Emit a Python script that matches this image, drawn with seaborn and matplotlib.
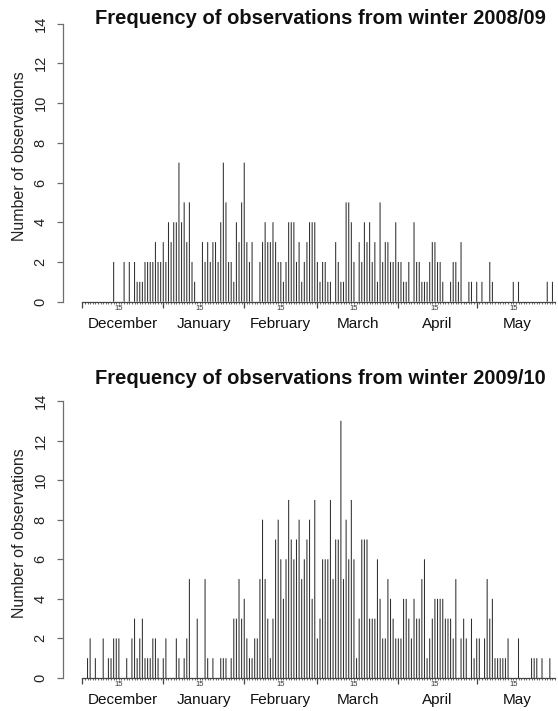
import matplotlib
matplotlib.use("Agg")
import matplotlib.pyplot as plt
import seaborn as sns
import pandas as pd
import numpy as np

# ---------------- data (day index counted from 1 December) ----------------
month_names = ["December", "January", "February", "March", "April", "May"]
month_lengths = [31, 31, 28, 31, 30, 31]
y_ticks = [0, 2, 4, 6, 8, 10, 12, 14]

titles = ["Frequency of observations from winter 2008/09",
          "Frequency of observations from winter 2009/10"]

days_0809 = [12, 16, 18, 20, 21, 22, 23, 24, 25, 26, 27, 28, 29, 30, 31, 32, 33, 34, 35, 36,
             37, 38, 39, 40, 41, 42, 43, 46, 47, 48, 49, 50, 51, 52, 53, 54, 55, 56, 57, 58,
             59, 60, 61, 62, 63, 64, 65, 68, 69, 70, 71, 72, 73, 74, 75, 76, 77, 78, 79, 80,
             81, 82, 83, 84, 85, 86, 87, 88, 89, 90, 91, 92, 93, 94, 95, 97, 98, 99, 100, 101,
             102, 103, 104, 106, 107, 108, 109, 110, 111, 112, 113, 114, 115, 116, 117, 118, 119, 120, 121, 122,
             123, 124, 125, 127, 128, 129, 130, 131, 132, 133, 134, 135, 136, 137, 138, 141, 142, 143, 144, 145,
             148, 149, 151, 153, 156, 157, 165, 167, 178, 180]
counts_0809 = [2, 2, 2, 2, 1, 1, 1, 2, 2, 2, 2, 3, 2, 2, 3, 2, 4, 3, 4, 4,
               7, 4, 5, 3, 5, 2, 1, 3, 2, 3, 2, 3, 3, 2, 4, 7, 5, 2, 2, 1,
               4, 3, 5, 7, 3, 2, 3, 2, 3, 4, 3, 3, 4, 3, 2, 2, 1, 2, 4, 4,
               4, 2, 3, 1, 2, 3, 4, 4, 4, 2, 1, 2, 2, 1, 1, 3, 2, 1, 1, 5,
               5, 4, 2, 3, 2, 4, 3, 4, 2, 3, 1, 5, 2, 3, 3, 2, 2, 4, 2, 2,
               1, 1, 2, 4, 2, 2, 1, 1, 1, 2, 3, 3, 2, 2, 1, 1, 2, 2, 1, 3,
               1, 1, 1, 1, 2, 1, 1, 1, 1, 1]

days_0910 = [2, 3, 5, 8, 10, 11, 12, 13, 14, 17, 19, 20, 21, 22, 23, 24, 25, 26, 27, 28,
             29, 31, 32, 36, 37, 39, 40, 41, 44, 47, 48, 50, 53, 54, 55, 57, 58, 59, 60, 61,
             62, 63, 64, 65, 66, 67, 68, 69, 70, 71, 72, 73, 74, 75, 76, 77, 78, 79, 80, 81,
             82, 83, 84, 85, 86, 87, 88, 89, 90, 91, 92, 93, 94, 95, 96, 97, 98, 99, 100, 101,
             102, 103, 104, 105, 106, 107, 108, 109, 110, 111, 112, 113, 114, 115, 116, 117, 118, 119, 120, 121,
             122, 123, 124, 125, 126, 127, 128, 129, 130, 131, 132, 133, 134, 135, 136, 137, 138, 139, 140, 141,
             142, 143, 145, 146, 147, 149, 150, 151, 152, 154, 155, 156, 157, 158, 159, 160, 161, 162, 163, 167,
             172, 173, 174, 176, 179]
counts_0910 = [1, 2, 1, 2, 1, 1, 2, 2, 2, 1, 2, 3, 1, 2, 3, 1, 1, 1, 2, 2,
               1, 1, 2, 2, 1, 1, 2, 5, 3, 5, 1, 1, 1, 1, 1, 1, 3, 3, 5, 3,
               4, 2, 1, 1, 2, 2, 5, 8, 5, 3, 1, 3, 7, 8, 6, 4, 6, 9, 7, 6,
               7, 8, 5, 6, 7, 8, 4, 9, 2, 3, 6, 6, 6, 9, 5, 7, 7, 13, 5, 8,
               6, 9, 6, 1, 3, 7, 7, 7, 3, 3, 3, 6, 4, 2, 2, 5, 4, 3, 2, 2,
               2, 4, 4, 3, 2, 4, 3, 3, 5, 6, 1, 2, 3, 4, 4, 4, 4, 3, 3, 3,
               2, 5, 2, 3, 2, 3, 1, 2, 2, 2, 5, 3, 4, 1, 1, 1, 1, 1, 2, 2,
               1, 1, 1, 1, 1]

# ---------------- style ----------------
sns.set_theme(style="white")
plt.rcParams["font.family"] = ["Liberation Sans", "DejaVu Sans"]

W, H, DPI = 558, 711, 100
fig = plt.figure(figsize=(W / DPI, H / DPI), dpi=DPI)

AX_COL = "#6e6e6e"
BAR_COL = "#303030"
n_days = sum(month_lengths)
month_starts = np.concatenate([[0], np.cumsum(month_lengths)])
month_mid = [month_starts[i] + month_lengths[i] / 2 for i in range(len(month_names))]
fifteenths = [month_starts[i] + 14 for i in range(len(month_names))]

x_left, px_per_day = 82.3, 2.612
x_right = x_left + px_per_day * (n_days - 1)

panels = [
    dict(days=days_0809, counts=counts_0809, base=301.7, top=23.6, title=titles[0],
         title_y=19, ylab_y=156),
    dict(days=days_0910, counts=counts_0910, base=678.0, top=401.0, title=titles[1],
         title_y=379, ylab_y=533),
]

for p in panels:
    ax = fig.add_axes([x_left / W, 1 - p["base"] / H, (x_right - x_left) / W,
                       (p["base"] - p["top"]) / H])
    df = pd.DataFrame({"day": p["days"], "count": p["counts"]})
    sns.barplot(data=df, x="day", y="count", native_scale=True, width=0.4,
                color=BAR_COL, saturation=1, errorbar=None, linewidth=0, ax=ax)
    for patch in ax.patches:
        patch.set_snap(False)
    ax.set_xlim(0, n_days - 1)
    ax.set_ylim(0, 14)
    ax.set_xlabel("")
    ax.set_ylabel("")

    for s in ["top", "right"]:
        ax.spines[s].set_visible(False)
    ax.spines["left"].set_position(("outward", 14))
    ax.spines["left"].set_bounds(0, 14)
    ax.spines["left"].set_color(AX_COL)
    ax.spines["left"].set_linewidth(0.9)
    ax.spines["bottom"].set_color("#444444")
    ax.spines["bottom"].set_linewidth(0.9)

    ax.set_yticks(y_ticks)
    ax.set_yticklabels([str(v) for v in y_ticks], rotation=90, va="center",
                       fontsize=10.5, color="#222222")
    ax.tick_params(axis="y", length=4, width=0.9, color=AX_COL, pad=7, left=True)

    ax.set_xticks(month_starts[:-1])
    ax.set_xticklabels([])
    ax.set_xticks(np.arange(0, n_days), minor=True)
    ax.tick_params(axis="x", which="major", length=4.5, width=0.9, color="#444444",
                   bottom=True, direction="out")
    ax.tick_params(axis="x", which="minor", length=1.6, width=0.6, color="#555555",
                   bottom=True, direction="out")

    for d in fifteenths:
        ax.annotate("15", xy=(d, 0), xycoords=("data", "axes fraction"),
                    xytext=(0, -4.7), textcoords="offset points", ha="center",
                    va="center", fontsize=5.5, color="#333333")
    for name, m in zip(month_names, month_mid):
        ax.annotate(name, xy=(m, 0), xycoords=("data", "axes fraction"),
                    xytext=(0, -16), textcoords="offset points", ha="center",
                    va="center", fontsize=11, color="#111111")

    fig.text((x_left + x_right) / 2 / W + 2 / W, 1 - p["title_y"] / H, p["title"],
             ha="center", va="center", fontsize=14.5, fontweight="bold", color="#111111")
    fig.text(20 / W, 1 - p["ylab_y"] / H, "Number of observations", rotation=90,
             ha="center", va="center", fontsize=11.5, color="#222222")

fig.savefig("out.png", dpi=DPI, facecolor="white")
